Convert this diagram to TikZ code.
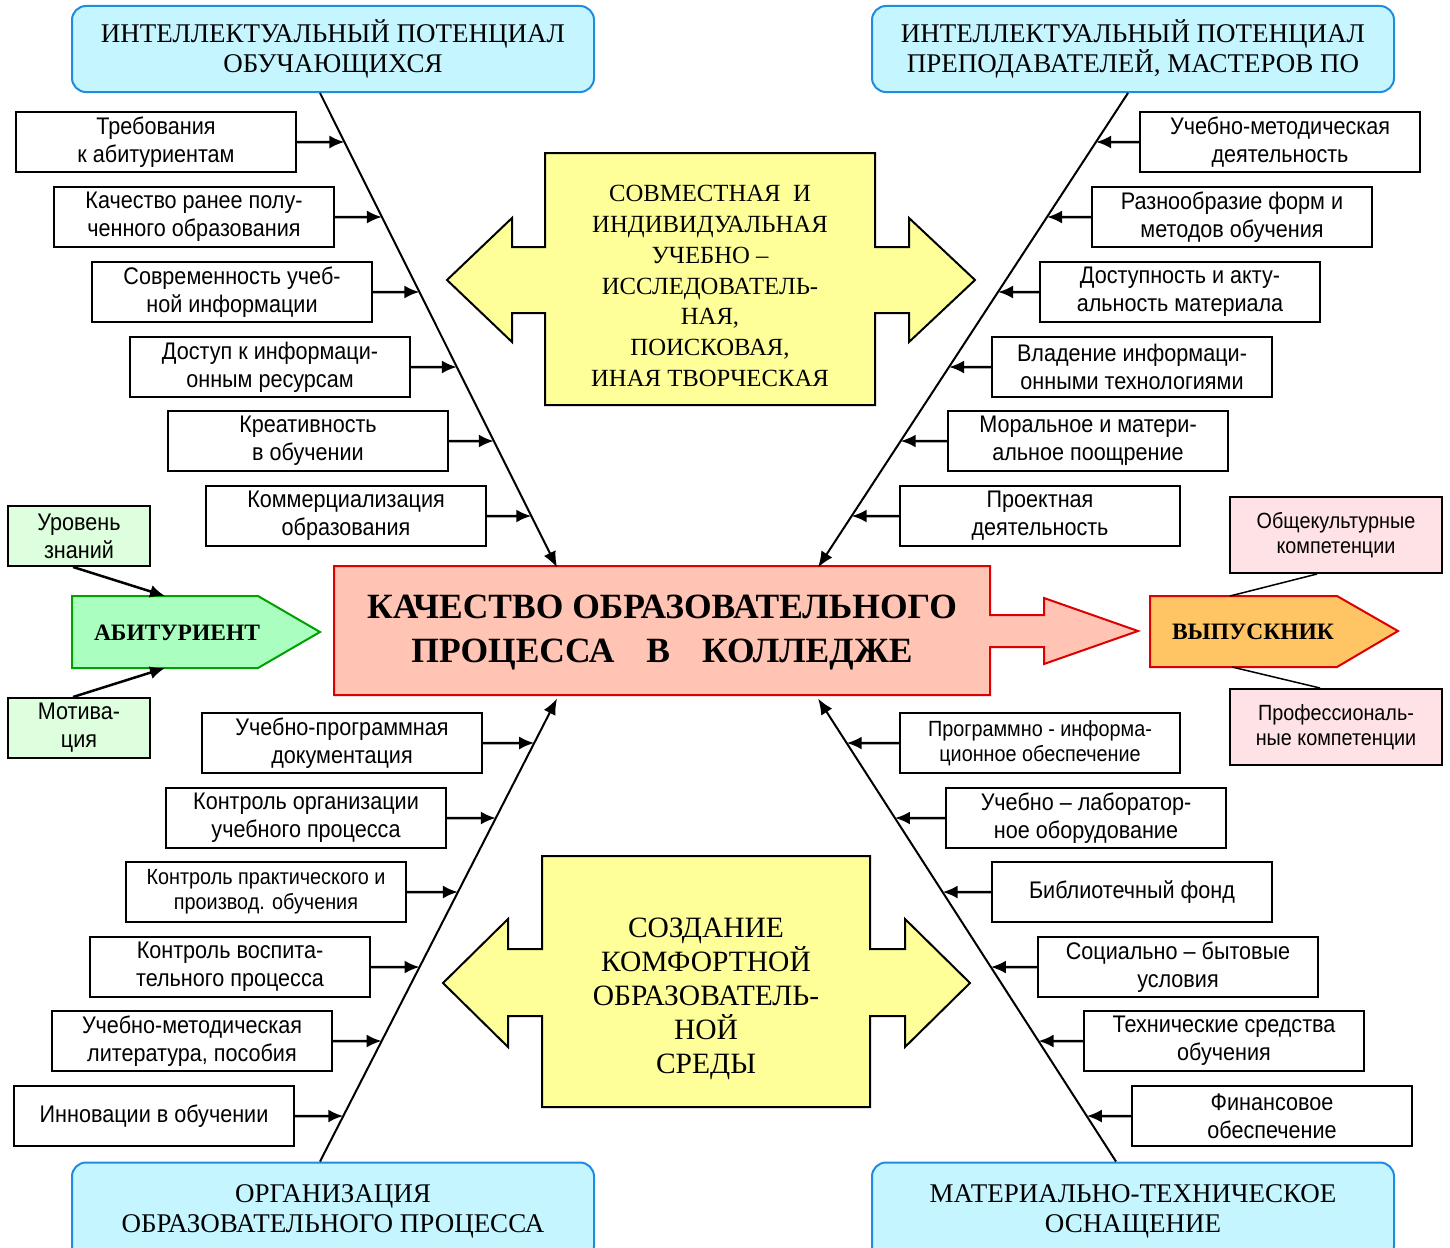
\documentclass[tikz,border=0pt]{standalone}
\usepackage{fontspec}
\setmainfont{Liberation Serif}
\newfontfamily\sansfnt[FakeStretch=0.9]{Liberation Sans}
\usetikzlibrary{arrows.meta}
\definecolor{headCyan}{RGB}{197,245,255}
\definecolor{headBlue}{RGB}{30,140,225}
\definecolor{yelFill}{RGB}{255,255,153}
\definecolor{qualFill}{RGB}{255,196,180}
\definecolor{qualRed}{RGB}{220,0,0}
\definecolor{abitFill}{RGB}{170,255,192}
\definecolor{abitGreen}{RGB}{0,160,0}
\definecolor{lvlFill}{RGB}{221,255,221}
\definecolor{pinkFill}{RGB}{255,226,230}
\definecolor{vipFill}{RGB}{255,196,100}
\newcommand\causefont{\sansfnt\fontsize{24}{28}\selectfont}
\newcommand\smallcause{\sansfnt\fontsize{22}{25}\selectfont}

\begin{document}
\begin{tikzpicture}
  [x=1pt,y=-1pt,line width=2pt,
   causeN/.style={draw,fill=white,minimum width=280,minimum height=60,inner sep=1pt,align=center,font=\causefont},
   headN/.style={draw=headBlue,fill=headCyan,rounded corners=14,minimum width=522,minimum height=86,align=center,font=\fontsize{27}{30}\selectfont},
   sideN/.style={draw,minimum width=142,minimum height=60,inner sep=1pt,align=center,font=\causefont},
   compN/.style={draw,fill=pinkFill,minimum width=212,minimum height=76,align=center,font=\sansfnt\fontsize{22}{25.5}\selectfont},
   yelN/.style={draw,fill=yelFill},
   arr/.style={line width=2.5pt,-{Latex[length=15pt,width=13pt]}},
   bone/.style={line width=2pt,-{Latex[length=16pt,width=13pt]}},
  ]
 \useasboundingbox (0,0) rectangle (1450,1247);
 \clip (0,0) rectangle (1450,1247);

 % central box with outgoing arrow
 \draw[qualRed,fill=qualFill] (334,566) -- (990,566) -- (990,615) -- (1044,615) -- (1044,598)
   -- (1138,631) -- (1044,664) -- (1044,647) -- (990,647) -- (990,695) -- (334,695) -- cycle;
 \node[minimum width=656,minimum height=129,align=center,font=\bfseries\fontsize{35.5}{44}\selectfont]
   (qual) at (662,633) {КАЧЕСТВО ОБРАЗОВАТЕЛЬНОГО\\ПРОЦЕССА\hspace{0.9em}В\hspace{0.9em}КОЛЛЕДЖЕ};

 % yellow double arrows
 \draw[yelN] (447,280) -- (512,218) -- (512,247) -- (545,247) -- (545,153) -- (875,153) -- (875,247)
   -- (909,247) -- (909,218) -- (975,280) -- (909,342) -- (909,313) -- (875,313) -- (875,405)
   -- (545,405) -- (545,313) -- (512,313) -- (512,342) -- cycle;
 \node[align=center,font=\fontsize{24.7}{30.7}\selectfont] (joint) at (710,286)
   {СОВМЕСТНАЯ\ \ И\\ИНДИВИДУАЛЬНАЯ\\УЧЕБНО –\\ИССЛЕДОВАТЕЛЬ-\\НАЯ,\\ПОИСКОВАЯ,\\ИНАЯ ТВОРЧЕСКАЯ};
 \draw[yelN] (443,983) -- (508,919) -- (508,949) -- (542,949) -- (542,856) -- (870,856) -- (870,949)
   -- (905,949) -- (905,919) -- (970,983) -- (905,1047) -- (905,1016) -- (870,1016) -- (870,1107)
   -- (542,1107) -- (542,1016) -- (508,1016) -- (508,1047) -- cycle;
 \node[align=center,font=\fontsize{29.5}{34}\selectfont] (comfort) at (706,999)
   {СОЗДАНИЕ\\КОМФОРТНОЙ\\ОБРАЗОВАТЕЛЬ-\\НОЙ\\СРЕДЫ};

 % heads
 \node[headN] (hUL) at (333,49) {ИНТЕЛЛЕКТУАЛЬНЫЙ ПОТЕНЦИАЛ\\ОБУЧАЮЩИХСЯ};
 \node[headN] (hUR) at (1133,49) {ИНТЕЛЛЕКТУАЛЬНЫЙ ПОТЕНЦИАЛ\\ПРЕПОДАВАТЕЛЕЙ, МАСТЕРОВ ПО};
 \node[headN,minimum height=97] (hLL) at (333,1211) {ОРГАНИЗАЦИЯ\\ОБРАЗОВАТЕЛЬНОГО ПРОЦЕССА};
 \node[headN,minimum height=97] (hLR) at (1133,1211) {МАТЕРИАЛЬНО-ТЕХНИЧЕСКОЕ\\ОСНАЩЕНИЕ};

 % bones
 \coordinate (ulA) at ([xshift=-13]hUL.south);
 \coordinate (ulB) at ([xshift=-105]qual.north);
 \coordinate (urA) at ([xshift=-5]hUR.south);
 \coordinate (urB) at ([xshift=156]qual.north);
 \coordinate (llA) at ([xshift=-13]hLL.north);
 \coordinate (llB) at ([xshift=-105]qual.south);
 \coordinate (lrA) at ([xshift=-17]hLR.north);
 \coordinate (lrB) at ([xshift=156]qual.south);
 \draw[bone] (ulA) -- (ulB);
 \draw[bone] (urA) -- (urB);
 \draw[bone] (llA) -- (llB);
 \draw[bone] (lrA) -- (lrB);

 % causes, upper left
 \node[causeN] (ul1) at (156,142) {Требования\\к абитуриентам};
 \node[causeN] (ul2) at (194,217) {Качество ранее полу-\\ченного образования};
 \node[causeN] (ul3) at (232,292) {Современность учеб-\\ной информации};
 \node[causeN] (ul4) at (270,367) {Доступ к информаци-\\онным ресурсам};
 \node[causeN] (ul5) at (308,441) {Креативность\\в обучении};
 \node[causeN] (ul6) at (346,516) {Коммерциализация\\образования};
 % causes, upper right
 \node[causeN] (ur1) at (1280,142) {Учебно-методическая\\деятельность};
 \node[causeN] (ur2) at (1232,217) {Разнообразие форм и\\методов обучения};
 \node[causeN] (ur3) at (1180,292) {Доступность и акту-\\альность материала};
 \node[causeN] (ur4) at (1132,367) {Владение информаци-\\онными технологиями};
 \node[causeN] (ur5) at (1088,441) {Моральное и матери-\\альное поощрение};
 \node[causeN] (ur6) at (1040,516) {Проектная\\деятельность};
 % causes, lower left
 \node[causeN] (ll1) at (342,743) {Учебно-программная\\документация};
 \node[causeN] (ll2) at (306,818) {Контроль организации\\учебного процесса};
 \node[causeN,font=\smallcause] (ll3) at (266,892) {Контроль практического и\\производ. обучения};
 \node[causeN] (ll4) at (230,967) {Контроль воспита-\\тельного процесса};
 \node[causeN] (ll5) at (192,1041) {Учебно-методическая\\литература, пособия};
 \node[causeN] (ll6) at (154,1116) {Инновации в обучении};
 % causes, lower right
 \node[causeN,font=\smallcause] (lr1) at (1040,743) {Программно - информа-\\ционное обеспечение};
 \node[causeN] (lr2) at (1086,818) {Учебно – лаборатор-\\ное оборудование};
 \node[causeN] (lr3) at (1132,892) {Библиотечный фонд};
 \node[causeN] (lr4) at (1178,967) {Социально – бытовые\\условия};
 \node[causeN] (lr5) at (1224,1041) {Технические средства\\обучения};
 \node[causeN] (lr6) at (1272,1116) {Финансовое\\обеспечение};

 \foreach \n in {1,...,6} {
   \draw[arr] (ul\n.east) -- (intersection of ulA--ulB and ul\n.east--ul\n.west);
   \draw[arr] (ur\n.west) -- (intersection of urA--urB and ur\n.east--ur\n.west);
   \draw[arr] (ll\n.east) -- (intersection of llA--llB and ll\n.east--ll\n.west);
   \draw[arr] (lr\n.west) -- (intersection of lrA--lrB and lr\n.east--lr\n.west);
 }

 % entrant
 \draw[abitGreen,fill=abitFill] (72,596) -- (258,596) -- (320,632) -- (258,668) -- (72,668) -- cycle;
 \node[font=\bfseries\fontsize{23.5}{26}\selectfont] (abit) at (177,633) {АБИТУРИЕНТ};
 \coordinate (abTop) at (165,596);
 \coordinate (abBot) at (165,668);
 \node[sideN,fill=lvlFill] (lvl) at (79,536) {Уровень\\знаний};
 \node[sideN,fill=lvlFill] (mot) at (79,728) {Мотива-\\ция};
 \draw[arr] ([xshift=-6]lvl.south) -- (abTop);
 \draw[arr] ([xshift=-6]mot.north) -- (abBot);

 % graduate
 \draw[qualRed,fill=vipFill] (1150,596) -- (1337,596) -- (1398,631) -- (1337,667) -- (1150,667) -- cycle;
 \node[font=\bfseries\fontsize{23.5}{26}\selectfont] (vip) at (1253,632) {ВЫПУСКНИК};
 \coordinate (vpTop) at (1230,596);
 \coordinate (vpBot) at (1232,667);
 \node[compN] (gen) at (1336,535) {Общекультурные\\компетенции};
 \node[compN] (prof) at (1336,727) {Профессиональ-\\ные компетенции};
 \draw[line width=1.5pt] ([xshift=-19]gen.south) -- (vpTop);
 \draw[line width=1.5pt] (vpBot) -- ([xshift=-16]prof.north);
\end{tikzpicture}
\end{document}
